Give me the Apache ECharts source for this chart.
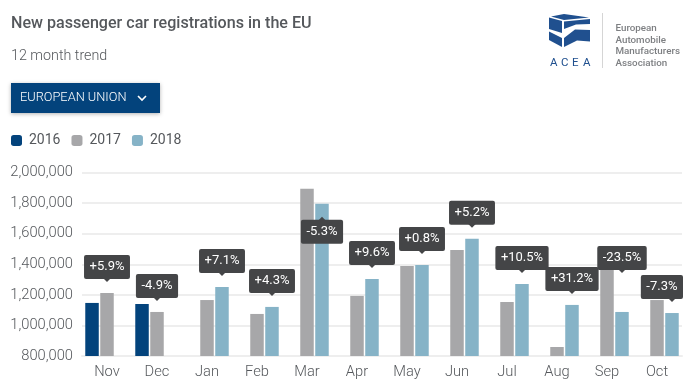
<!DOCTYPE html>
<html>
<head>
<meta charset="utf-8">
<style>
html, body { margin: 0; padding: 0; background: #fff; }
#chart { width: 697px; height: 386px; }
</style>
<script src="https://cdn.jsdelivr.net/npm/echarts@6/dist/echarts.min.js"></script>
</head>
<body>
<div id="chart"></div>
<script>
var months = ['Nov', 'Dec', 'Jan', 'Feb', 'Mar', 'Apr', 'May', 'Jun', 'Jul', 'Aug', 'Sep', 'Oct'];
var values2016 = [1147000, 1140000, null, null, null, null, null, null, null, null, null, null];
var values2017 = [1212000, 1088000, 1166000, 1075000, 1893000, 1193000, 1389000, 1494000, 1153000, 859000, 1423000, 1166000];
var values2018 = [null, null, 1251000, 1121000, 1795000, 1304000, 1395000, 1566000, 1271000, 1134000, 1088000, 1081000];
var changes = ['+5.9%', '-4.9%', '+7.1%', '+4.3%', '-5.3%', '+9.6%', '+0.8%', '+5.2%', '+10.5%', '+31.2%', '-23.5%', '-7.3%'];
// value each callout hangs from
var calloutAnchors = [1212000, 1088000, 1251000, 1121000, 1795000, 1304000, 1395000, 1566000, 1271000, 1134000, 1271000, 1081000];

var textColor = '#55585c';
var font = 'Roboto';
var calloutFont = '13px ' + font;
var measure = document.createElement('canvas').getContext('2d');
measure.font = calloutFont;

function renderCallout(params, api) {
	var i = api.value(0);
	var pt = api.coord([i, calloutAnchors[i]]);
	var slot = values2018[i] != null ? 15 : 0;
	var tipX = pt[0] + slot;
	var below = months[i] === 'Mar';
	var tipY = below ? pt[1] + 13 : pt[1] - 11;
	var label = changes[i];
	var w = measure.measureText(label).width + 11;
	var h = 24;
	var boxX = tipX - w / 2;
	if (boxX + w > 683) boxX = 683 - w;
	var boxY = below ? tipY + 3 : tipY - 3 - h;
	var baseY = below ? tipY + 4 : tipY - 4;
	return {
		type: 'group',
		children: [
			{
				type: 'rect',
				shape: { x: boxX, y: boxY, width: w, height: h, r: 2 },
				style: { fill: '#444547' }
			},
			{
				type: 'polygon',
				shape: { points: [[tipX - 4, baseY], [tipX + 4, baseY], [tipX, tipY]] },
				style: { fill: '#444547' }
			},
			{
				type: 'text',
				style: {
					x: boxX + w / 2, y: boxY + h / 2,
					text: label, fill: '#fff',
					font: calloutFont,
					align: 'center', verticalAlign: 'middle'
				}
			}
		]
	};
}

var logoBlue = '#20508f';
function logoPiece(points) {
	return { type: 'polygon', shape: { points: points }, style: { fill: logoBlue } };
}
function logoLetter(x, ch) {
	return { type: 'text', style: { x: x, y: 63, text: ch, fill: logoBlue, font: '11.5px Roboto', verticalAlign: 'middle' } };
}
function logoLine(y, str) {
	return { type: 'text', style: { x: 615.5, y: y, text: str, fill: '#7d7f82', font: '500 9.8px Roboto', verticalAlign: 'middle' } };
}

var myChart = echarts.init(document.getElementById('chart'), null, { renderer: 'canvas' });

var option = {
	animation: false,
	textStyle: { fontFamily: font },
	title: [
		{ text: 'New passenger car registrations in the EU', left: 11, top: 16, padding: 0,
			textStyle: { fontSize: 16.1, fontWeight: 500, color: textColor } },
		{ text: '12 month trend', left: 11, top: 49, padding: 0,
			textStyle: { fontSize: 14.3, fontWeight: 300, color: textColor } }
	],
	legend: {
		left: 11, top: 133.5, padding: 0,
		icon: 'roundRect',
		itemWidth: 11, itemHeight: 11, itemGap: 11,
		selectedMode: false,
		data: ['2016', '2017', '2018'],
		textStyle: { fontSize: 14, color: textColor, padding: [0, 0, 0, 2] }
	},
	grid: { left: 82, right: 15, top: 172.5, bottom: 30 },
	xAxis: {
		type: 'category',
		data: months,
		axisLine: { lineStyle: { color: '#eeeeee', width: 2 } },
		axisTick: { show: false },
		axisLabel: { fontSize: 14.7, fontWeight: 300, color: textColor, margin: 9 }
	},
	yAxis: {
		type: 'value',
		min: 800000, max: 2000000, interval: 200000,
		axisLine: { show: false },
		axisTick: { show: false },
		splitLine: { lineStyle: { color: '#eeeeee', width: 2 } },
		axisLabel: {
			fontSize: 14.7, fontWeight: 300, color: textColor, margin: 9,
			formatter: function (v) { return echarts.format.addCommas(v); }
		}
	},
	series: [
		{ name: '2016', type: 'bar', data: values2016, barWidth: 13.5, barGap: '11%', itemStyle: { color: '#03437c' } },
		{ name: '2017', type: 'bar', data: values2017, barWidth: 13.5, barGap: '11%', itemStyle: { color: '#a7a7a9' } },
		{ name: '2018', type: 'bar', data: values2018, barWidth: 13.5, barGap: '11%', itemStyle: { color: '#86b3c7' } },
		{
			type: 'custom',
			z: 5,
			data: months.map(function (m, i) { return [i]; }),
			encode: { x: 0 },
			renderItem: renderCallout,
			silent: true
		}
	],
	graphic: [
		// dropdown button
		{ type: 'rect', shape: { x: 11, y: 83, width: 149, height: 30 },
			style: { fill: '#03437c', shadowBlur: 4, shadowOffsetY: 1, shadowColor: 'rgba(0,0,0,0.3)' } },
		{ type: 'text', style: { x: 20, y: 98, text: 'EUROPEAN UNION', fill: '#fff', font: '300 12.8px Roboto', verticalAlign: 'middle' } },
		{ type: 'polyline', shape: { points: [[138, 96], [142, 100], [146, 96]] },
			style: { fill: null, stroke: '#fff', lineWidth: 1.6 } },
		// logo
		logoPiece([[551, 16.5], [564, 14], [589, 17.5], [564, 20]]),
		logoPiece([[549, 17.5], [562, 21], [562, 33], [549, 29]]),
		logoPiece([[564, 21.5], [590, 19], [590, 24], [576, 24.5], [564, 29]]),
		logoPiece([[549, 31.5], [562, 38], [562, 47], [549, 40]]),
		logoPiece([[564, 38], [575, 29.5], [590, 30], [590, 41.5], [577, 40.5], [564, 47]]),
		logoLetter(550, 'A'),
		logoLetter(561, 'C'),
		logoLetter(572, 'E'),
		logoLetter(583, 'A'),
		{ type: 'line', shape: { x1: 602.5, y1: 13, x2: 602.5, y2: 68 }, style: { stroke: '#d5d5d5', lineWidth: 1 } },
		logoLine(29, 'European'),
		logoLine(40.5, 'Automobile'),
		logoLine(52, 'Manufacturers'),
		logoLine(63.5, 'Association')
	]
};

myChart.setOption(option);
</script>
</body>
</html>
